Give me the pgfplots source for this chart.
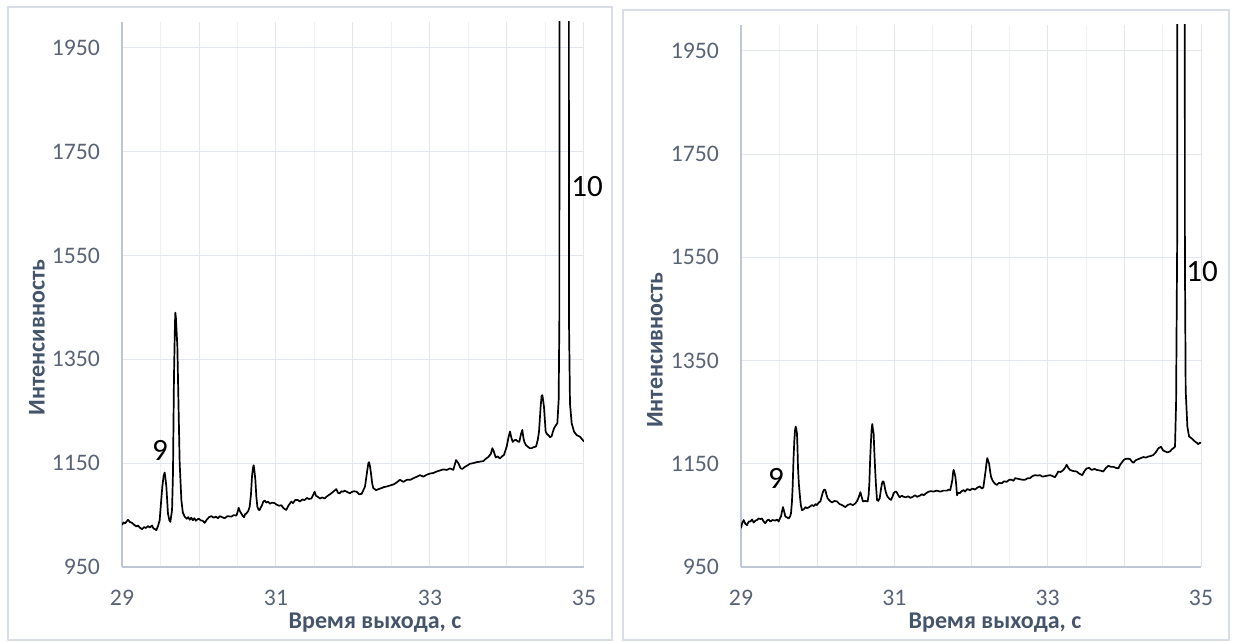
\documentclass[border=0pt]{standalone}
\usepackage{pgfplots}
\usepackage{pgfplotstable}
\pgfplotsset{compat=1.18}
\usepackage{fontspec}
\setmainfont{Carlito}

\definecolor{gridmaj}{RGB}{226,230,237}
\definecolor{gridmin}{RGB}{237,240,244}
\definecolor{axisc}{RGB}{190,198,212}
\definecolor{tickc}{RGB}{89,99,117}
\definecolor{titlec}{RGB}{68,84,106}
\definecolor{framec}{RGB}{216,221,230}

% chromatogram, sample 1
\pgfplotstableread{
t I
29.000 1031
29.020 1036
29.040 1034
29.078 1041
29.100 1037
29.130 1035
29.160 1031
29.190 1028
29.208 1030
29.230 1026
29.260 1023
29.290 1027
29.310 1025
29.338 1029
29.360 1026
29.390 1030
29.410 1024
29.430 1023
29.446 1021
29.470 1030
29.489 1040
29.510 1080
29.524 1105
29.540 1125
29.554 1132
29.565 1120
29.576 1105
29.590 1070
29.597 1053
29.615 1040
29.628 1037
29.650 1060
29.662 1130
29.675 1317
29.688 1420
29.693 1440
29.700 1430
29.719 1375
29.736 1246
29.749 1150
29.771 1079
29.790 1055
29.814 1047
29.840 1043
29.860 1046
29.880 1041
29.900 1045
29.920 1040
29.940 1044
29.960 1039
29.980 1042
30.000 1043
30.020 1040
30.050 1039
30.074 1035
30.100 1041
30.130 1046
30.160 1048
30.190 1045
30.220 1047
30.247 1044
30.270 1048
30.300 1046
30.333 1044
30.370 1048
30.420 1047
30.450 1050
30.485 1049
30.500 1055
30.515 1064
30.530 1058
30.550 1053
30.570 1048
30.585 1046
30.600 1052
30.615 1053
30.640 1058
30.658 1066
30.675 1090
30.688 1124
30.700 1140
30.710 1146
30.720 1135
30.732 1118
30.745 1085
30.758 1066
30.775 1060
30.788 1060
30.800 1064
30.818 1069
30.835 1076
30.853 1078
30.875 1074
30.896 1076
30.920 1072
30.950 1074
30.983 1073
31.010 1070
31.040 1068
31.069 1069
31.100 1063
31.134 1060
31.160 1068
31.199 1076
31.220 1073
31.250 1079
31.286 1079
31.310 1076
31.340 1080
31.372 1079
31.400 1083
31.430 1081
31.459 1082
31.480 1088
31.502 1095
31.520 1087
31.545 1085
31.570 1082
31.600 1084
31.632 1082
31.660 1086
31.690 1089
31.719 1092
31.750 1096
31.784 1100
31.805 1093
31.827 1092
31.850 1096
31.870 1095
31.892 1097
31.930 1094
31.961 1092
31.978 1094
32.010 1096
32.048 1095
32.080 1090
32.113 1091
32.156 1105
32.186 1137
32.200 1150
32.208 1152
32.220 1145
32.234 1130
32.250 1110
32.264 1102
32.300 1098
32.330 1100
32.372 1102
32.400 1104
32.437 1105
32.480 1107
32.524 1109
32.560 1112
32.610 1118
32.654 1114
32.700 1118
32.745 1118
32.784 1121
32.830 1124
32.870 1127
32.913 1124
32.960 1128
33.000 1130
33.040 1131
33.087 1134
33.130 1136
33.173 1138
33.220 1137
33.260 1140
33.303 1137
33.338 1156
33.368 1150
33.398 1140
33.420 1139
33.455 1143
33.490 1146
33.520 1149
33.560 1150
33.606 1152
33.650 1153
33.693 1154
33.720 1158
33.758 1162
33.790 1168
33.810 1179
33.830 1172
33.853 1161
33.880 1163
33.909 1159
33.935 1163
33.961 1166
33.996 1182
34.020 1200
34.039 1211
34.055 1200
34.074 1191
34.095 1194
34.117 1195
34.140 1192
34.160 1191
34.180 1205
34.199 1214
34.212 1200
34.225 1191
34.245 1185
34.268 1182
34.295 1179
34.320 1179
34.350 1181
34.377 1182
34.400 1195
34.416 1211
34.437 1259
34.450 1280
34.459 1281
34.470 1270
34.480 1259
34.502 1211
34.520 1206
34.537 1204
34.560 1200
34.580 1202
34.595 1210
34.610 1217
34.630 1222
34.654 1227
34.671 1272
34.680 1426
34.683 2600
34.740 2900
34.802 2600
34.805 1426
34.818 1265
34.840 1227
34.870 1211
34.905 1204
34.948 1201
34.975 1196
35.000 1192
}\runA

% chromatogram, sample 2
\pgfplotstableread{
t I
29.000 1025
29.015 1035
29.035 1041
29.055 1034
29.078 1031
29.100 1038
29.122 1038
29.145 1042
29.165 1036
29.190 1040
29.209 1041
29.230 1044
29.255 1043
29.274 1044
29.295 1038
29.317 1035
29.340 1040
29.360 1042
29.383 1038
29.410 1041
29.448 1040
29.470 1042
29.491 1038
29.510 1045
29.522 1048
29.535 1058
29.548 1066
29.562 1058
29.578 1048
29.600 1046
29.622 1044
29.640 1048
29.652 1054
29.664 1075
29.674 1106
29.685 1160
29.696 1196
29.705 1215
29.713 1222
29.720 1218
29.730 1209
29.737 1180
29.743 1144
29.755 1110
29.765 1093
29.780 1070
29.796 1060
29.820 1062
29.840 1066
29.861 1064
29.890 1066
29.926 1070
29.950 1068
29.975 1072
29.991 1070
30.015 1075
30.035 1077
30.055 1088
30.070 1096
30.085 1100
30.100 1099
30.115 1090
30.130 1083
30.160 1078
30.187 1075
30.220 1078
30.252 1077
30.285 1072
30.317 1070
30.340 1068
30.361 1066
30.390 1070
30.426 1072
30.460 1070
30.491 1073
30.515 1078
30.535 1085
30.557 1095
30.575 1085
30.591 1077
30.620 1078
30.652 1077
30.665 1090
30.674 1112
30.685 1160
30.696 1196
30.705 1220
30.713 1227
30.722 1215
30.730 1209
30.740 1170
30.748 1144
30.760 1110
30.774 1080
30.790 1078
30.809 1083
30.825 1100
30.839 1112
30.850 1116
30.861 1115
30.875 1105
30.887 1096
30.900 1090
30.913 1086
30.935 1082
30.957 1080
30.975 1086
30.991 1093
31.010 1096
31.026 1096
31.048 1090
31.070 1085
31.095 1088
31.122 1086
31.150 1085
31.180 1087
31.209 1084
31.240 1086
31.270 1089
31.296 1086
31.330 1088
31.360 1091
31.383 1089
31.415 1093
31.448 1096
31.480 1097
31.513 1096
31.550 1098
31.600 1096
31.640 1098
31.687 1098
31.710 1100
31.730 1099
31.745 1110
31.757 1119
31.768 1135
31.774 1138
31.785 1132
31.796 1125
31.808 1108
31.817 1089
31.835 1094
31.852 1093
31.880 1097
31.904 1099
31.922 1096
31.950 1101
31.987 1099
32.020 1102
32.052 1100
32.085 1104
32.118 1106
32.140 1102
32.161 1104
32.180 1125
32.192 1138
32.205 1155
32.213 1161
32.225 1155
32.235 1151
32.250 1135
32.261 1125
32.280 1118
32.292 1115
32.315 1111
32.335 1109
32.365 1113
32.400 1112
32.430 1116
32.465 1115
32.500 1119
32.530 1119
32.555 1117
32.574 1122
32.610 1121
32.639 1120
32.670 1119
32.705 1119
32.740 1122
32.770 1122
32.800 1126
32.835 1128
32.870 1127
32.900 1128
32.930 1125
32.965 1126
33.000 1127
33.031 1128
33.065 1126
33.096 1124
33.120 1130
33.139 1135
33.170 1134
33.205 1138
33.230 1143
33.248 1148
33.270 1142
33.292 1138
33.330 1136
33.378 1135
33.410 1131
33.452 1128
33.480 1136
33.509 1141
33.540 1142
33.574 1138
33.610 1140
33.639 1138
33.680 1137
33.726 1135
33.760 1142
33.792 1146
33.825 1144
33.857 1144
33.890 1142
33.922 1141
33.945 1148
33.965 1152
33.990 1157
34.009 1159
34.040 1160
34.074 1159
34.100 1154
34.118 1152
34.150 1157
34.183 1159
34.215 1161
34.248 1163
34.280 1162
34.313 1164
34.345 1165
34.378 1167
34.410 1172
34.444 1180
34.479 1183
34.505 1176
34.531 1174
34.565 1172
34.596 1174
34.620 1178
34.639 1180
34.661 1183
34.675 1267
34.690 1600
34.693 2600
34.740 2900
34.787 2600
34.790 1550
34.800 1293
34.822 1222
34.844 1203
34.879 1199
34.922 1193
34.950 1190
34.965 1188
34.985 1191
35.000 1190
}\runB

\pgfplotsset{
  chroma/.style={
    scale only axis,
    anchor=south west,
    xmin=29, xmax=35, ymin=950, ymax=2000,
    axis x line*=bottom, axis y line*=left,
    axis line style={-, draw=axisc, line width=1.2pt},
    xtick={29,30,...,35},
    xticklabels={29,,31,,33,,35},
    minor xtick={29.5,30.5,...,34.5},
    ytick={950,1150,...,1950},
    yticklabels={950,1150,1350,1550,1750,1950},
    xmajorgrids=true, xminorgrids=true, ymajorgrids=true,
    major grid style={draw=gridmaj, line width=1pt},
    minor grid style={draw=gridmin, line width=1pt},
    major tick length=0pt, minor tick length=0pt,
    /pgf/number format/assume math mode=true,
    tick label style={font=\fontsize{23.7}{28}\selectfont, text=tickc, inner sep=0pt},
    yticklabel style={anchor=east, xshift=-22pt},
    xticklabel style={anchor=north, yshift=-23pt},
    trace/.style={black, line width=1.7pt, line join=round},
  }
}

\begin{document}
\begin{tikzpicture}[x=1pt, y=1pt]
\useasboundingbox (0,0) rectangle (1235,642);
% panel frames
\draw[framec, line width=1.6pt] (8,2) rectangle (612,635);
\draw[framec, line width=1.6pt] (623,2) rectangle (1229,632);

\begin{axis}[chroma, at={(122pt,75pt)}, width=462pt, height=545pt]
  \addplot[trace] table[x=t, y=I] {\runA};
\end{axis}

\begin{axis}[chroma, at={(741pt,75pt)}, width=460pt, height=542pt]
  \addplot[trace] table[x=t, y=I] {\runB};
\end{axis}

% axis titles
\tikzset{ttl/.style={font=\fontsize{24}{28}\selectfont\bfseries, text=titlec, inner sep=0pt}}
\node[ttl, anchor=base] at (375,13) {Время выхода, с};
\node[ttl, anchor=base] at (995,13) {Время выхода, с};
\node[ttl, rotate=90] at (37,304.5) {Интенсивность};
\node[ttl, rotate=90] at (655,292) {Интенсивность};

% peak numbers
\tikzset{pk/.style={font=\fontsize{31}{36}\selectfont, text=black, inner sep=0pt}}
\node[pk] at (160,192) {9};
\node[pk] at (587,455) {10};
\node[pk] at (776,164) {9};
\node[pk] at (1202,370) {10};
\end{tikzpicture}
\end{document}
